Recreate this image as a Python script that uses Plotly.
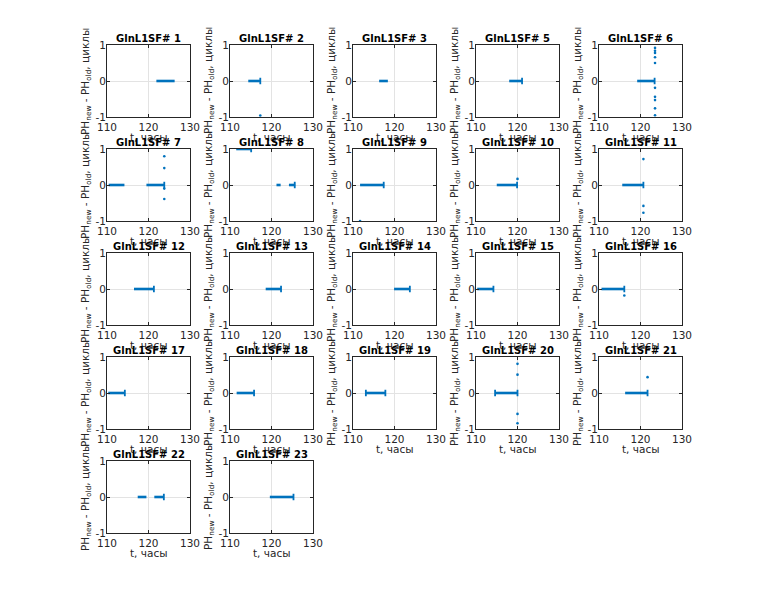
import plotly.graph_objects as go

# ---------------- data ----------------
panel_labels = [1, 2, 3, 5, 6, 7, 8, 9, 10, 11, 12, 13, 14, 15, 16, 17, 18, 19, 20, 21, 22, 23]

# dense runs of points (start time, end time, value)
seg_t0 = [[121.9], [114.4], [116.3], [118.0], [119.2], [110.4, 119.5], [111.5, 121.2, 124.2],
          [111.7], [115.0], [115.6], [116.5], [118.6], [119.9], [110.3], [110.6], [110.3],
          [111.6], [113.1], [114.6], [116.3], [117.4, 121.4], [119.6]]
seg_t1 = [[126.3], [117.4], [118.4], [121.1], [123.5], [114.2, 123.8], [115.1, 122.2, 125.7],
          [117.5], [119.9], [120.7], [121.3], [122.3], [123.7], [114.2], [116.1], [114.3],
          [115.8], [117.8], [120.0], [121.7], [119.5, 123.7], [125.3]]
seg_v = [[0], [0], [0], [0], [0], [0, 0], [1, 0, 0],
         [0], [0], [0], [0], [0], [0], [0], [0], [0],
         [0], [0], [0], [0], [0, 0], [0]]

# small vertical clusters at end of runs (time, value)
tick_t = [[], [117.3], [], [121.1], [123.4], [123.8], [115.1, 125.6],
          [117.4], [119.9], [120.7], [121.3], [122.3], [123.7], [114.2], [116.1], [114.3],
          [115.8], [113.1, 117.8], [114.6, 120.0], [121.7], [123.7], [125.3]]
tick_v = [[], [0], [], [0], [0], [0], [1, 0],
          [0], [0], [0], [0], [0], [0], [0], [0], [0],
          [0], [0, 0], [0, 0], [0], [0], [0]]

# isolated points
out_t = [[], [117.3], [], [], [123.5] * 10, [123.8] * 4, [],
         [111.7], [120.0], [120.7] * 3, [], [], [], [], [116.1], [],
         [], [], [120.0] * 4, [121.7], [], []]
out_v = [[], [-0.96], [], [], [0.92, 0.84, 0.78, 0.66, 0.5, -0.19, -0.44, -0.53, -0.76, -0.95],
         [0.8, 0.47, -0.1, -0.39], [],
         [-1.0], [0.17], [0.72, -0.58, -0.77], [], [], [], [], [-0.18], [],
         [], [], [0.81, 0.51, -0.58, -0.84], [0.44], [], []]

x_ticks = [110, 120, 130]
y_ticks = [-1, 0, 1]
y_tick_text = ["-1", "0", "1"]
x_title = "t, часы"
y_title = "PH<sub>new</sub> - PH<sub>old</sub>, циклы"
title_prefix = "GlnL1SF# "

# ---------------- layout ----------------
W, H = 760, 600
OFF = 8  # page body margin compensation
col_left = [107 - OFF, 230 - OFF, 353 - OFF, 476 - OFF, 599 - OFF]
ax_w = 83
row_top = [45 - OFF, 149 - OFF, 253 - OFF, 357 - OFF, 461 - OFF]
ax_h = 72

BLUE = "#0072BD"
AX = "#262626"
FONT = "DejaVu Sans"

fig = go.Figure()
layout = dict(template="none", width=W, height=H, margin=dict(l=0, r=0, t=0, b=0, pad=0),
              autosize=False,
              paper_bgcolor="white", plot_bgcolor="white", showlegend=False,
              font=dict(family=FONT, size=10, color=AX))
annotations = []
titles = []

for i, lab in enumerate(panel_labels):
    r, c = divmod(i, 5)
    k = i + 1
    xs = "" if k == 1 else str(k)
    xa, ya = "x" + xs, "y" + xs
    x0 = col_left[c] / W
    x1 = (col_left[c] + ax_w) / W
    y1 = 1 - row_top[r] / H
    y0 = 1 - (row_top[r] + ax_h) / H
    axcommon = dict(showline=True, mirror="ticks", linecolor=AX, linewidth=0.8,
                    ticks="inside", ticklen=3, tickcolor=AX, tickwidth=0.8,
                    showgrid=True, gridcolor="#e3e3e3", gridwidth=0.8, zeroline=False,
                    automargin=False,
                    tickfont=dict(family=FONT, size=10.5, color=AX), fixedrange=True)
    layout["xaxis" + xs] = dict(domain=[x0, x1], range=[110, 130], tickvals=x_ticks,
                                anchor=ya, **axcommon)
    layout["yaxis" + xs] = dict(domain=[y0, y1], range=[-1, 1], tickvals=y_ticks,
                                ticktext=y_tick_text, ticklabelstandoff=-2,
                                anchor=xa, **axcommon)

    # dense runs
    sx, sy = [], []
    for a, b, v in zip(seg_t0[i], seg_t1[i], seg_v[i]):
        sx += [a, b, None]
        sy += [v, v, None]
    fig.add_trace(go.Scatter(x=sx, y=sy, mode="lines", xaxis=xa, yaxis=ya,
                             line=dict(color=BLUE, width=2.6), hoverinfo="skip"))
    # end clusters
    tx, ty = [], []
    for t, v in zip(tick_t[i], tick_v[i]):
        tx += [t, t, None]
        ty += [v - 0.09, v + 0.09, None]
    if tx:
        fig.add_trace(go.Scatter(x=tx, y=ty, mode="lines", xaxis=xa, yaxis=ya,
                                 line=dict(color=BLUE, width=1.8), hoverinfo="skip"))
    # isolated points
    if out_t[i]:
        fig.add_trace(go.Scatter(x=out_t[i], y=out_v[i], mode="markers", xaxis=xa, yaxis=ya,
                                 marker=dict(color=BLUE, size=2.6, line=dict(width=0)),
                                 hoverinfo="skip"))

    xc = (x0 + x1) / 2
    annotations.append(dict(text=x_title, x=xc, y=y0, xref="paper", yref="paper",
                            xanchor="center", yanchor="top", yshift=-12, showarrow=False,
                            font=dict(family=FONT, size=10.5, color=AX)))
    annotations.append(dict(text=y_title, x=x0, y=(y0 + y1) / 2, xref="paper", yref="paper",
                            xanchor="center", yanchor="middle", xshift=-21, textangle=-90,
                            showarrow=False, font=dict(family=FONT, size=10.5, color=AX)))
    titles.append(dict(text="<b>" + title_prefix + str(lab) + "</b>", x=xc, y=y1,
                       xref="paper", yref="paper", xanchor="center", yanchor="bottom",
                       yshift=-1, showarrow=False, font=dict(family=FONT, size=10, color="black")))

layout["annotations"] = annotations + titles
fig.update_layout(**layout)
fig.write_html("out.html")
